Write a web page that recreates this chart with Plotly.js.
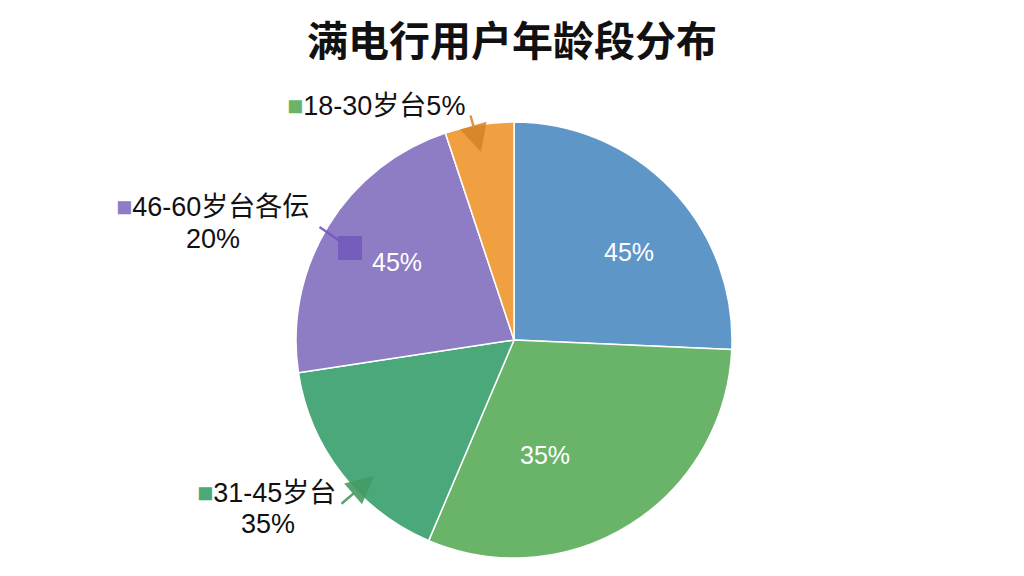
<!DOCTYPE html>
<html>
<head>
<meta charset="utf-8">
<script src="https://cdn.plot.ly/plotly-3.0.1.min.js"></script>
<style>html,body{margin:0;padding:0;background:#fff;}#chart{width:1024px;height:576px;}</style>
</head>
<body>
<div id="chart"></div>
<script>
const categories = ["未标注", "主体", "31-45岁台", "46-60岁台各伝", "18-30岁台"];
const shares = [25.7, 30.7, 16.2, 22.3, 5.1];
const insideLabels = ["45%", "35%", "", "45%", ""];
const colors = ["#5f96c8", "#6ab46a", "#4ba87b", "#8e7cc4", "#f0a040"];
const outerNames = ["18-30岁台5%", "46-60岁台各伝", "31-45岁台"];
const outerPcts = ["", "20%", "35%"];
const outerSquareColors = ["#6ab46a", "#8e7cc4", "#4ba87b"];

const FONT = "Liberation Sans, Arial, Noto Sans CJK SC, sans-serif";

const trace = {
  type: "pie",
  labels: categories,
  values: shares,
  textinfo: "none",
  sort: false,
  direction: "clockwise",
  rotation: 0,
  marker: {colors: colors, line: {color: "#ffffff", width: 1.5}},
  domain: {x: [(514 - 218) / 1024, (514 + 218) / 1024], y: [(236 - 218) / 576, (236 + 218) / 576]},
  hoverinfo: "none",
  showlegend: false
};

function sq(c) { return '<span style="color:' + c + '">■</span>'; }
const P = (px, py) => ({x: px / 1024, y: 1 - py / 576});

const base = {xref: "paper", yref: "paper", showarrow: false, font: {family: FONT, size: 27, color: "#111111"}};
const annotations = [];

// inside slice labels (white)
const insidePos = [P(629, 252), P(545, 455), null, P(397, 262), null];
insideLabels.forEach((t, i) => {
  if (t && insidePos[i]) annotations.push(Object.assign({}, base, insidePos[i], {
    text: t, xanchor: "center", yanchor: "middle", font: {family: FONT, size: 25, color: "#ffffff"}
  }));
});

// outer labels
annotations.push(Object.assign({}, base, P(285, 106), {xanchor: "left", yanchor: "middle",
  text: sq(outerSquareColors[0]) + outerNames[0] + outerPcts[0]}));
annotations.push(Object.assign({}, base, P(114, 207), {xanchor: "left", yanchor: "middle",
  text: sq(outerSquareColors[1]) + outerNames[1]}));
annotations.push(Object.assign({}, base, P(213, 239), {xanchor: "center", yanchor: "middle",
  text: outerPcts[1]}));
annotations.push(Object.assign({}, base, P(195, 493), {xanchor: "left", yanchor: "middle",
  text: sq(outerSquareColors[2]) + outerNames[2]}));
annotations.push(Object.assign({}, base, P(268, 524), {xanchor: "center", yanchor: "middle",
  text: outerPcts[2]}));

// leader lines with markers
function leader(x0, y0, x1, y1, head, size, color) {
  const a = P(x1, y1), b = P(x0, y0);
  annotations.push({xref: "paper", yref: "paper", axref: "paper", ayref: "paper",
    x: a.x, y: a.y, ax: b.x, ay: b.y, text: "", showarrow: true,
    arrowhead: head, arrowsize: size, arrowwidth: 2.5, arrowcolor: color});
}
leader(470, 114, 481, 152, 2, 2.2, "rgba(215,130,40,0.85)");
leader(318, 226, 350, 248, 7, 2.4, "rgba(115,90,190,0.9)");
leader(340, 505, 374, 476, 2, 2.2, "rgba(70,155,100,0.9)");

const layout = {
  width: 1024, height: 576,
  margin: {l: 0, r: 0, t: 0, b: 0},
  paper_bgcolor: "#ffffff",
  title: {text: "<b>满电行用户年龄段分布</b>", x: 0.5, xanchor: "center", y: 1 - 42 / 576, yanchor: "middle",
          font: {family: "Noto Sans CJK SC, sans-serif", size: 41, color: "#111111"}},
  annotations: annotations
};

Plotly.newPlot("chart", [trace], layout, {displayModeBar: false, staticPlot: true});
</script>
</body>
</html>
